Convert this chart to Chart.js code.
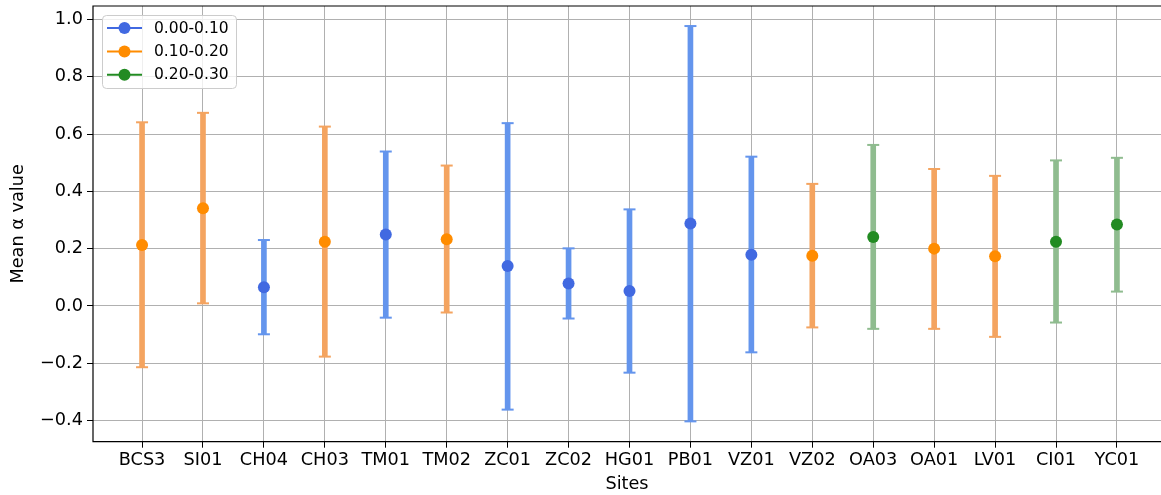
<!DOCTYPE html>
<html>
<head>
<meta charset="utf-8">
<title>Mean alpha value by site</title>
<script src="https://cdn.jsdelivr.net/npm/chart.js@4/dist/chart.umd.min.js"></script>
<style>
    html, body { margin: 0; padding: 0; overflow: hidden; background: #fff; }
    #wrap { width: 1161px; height: 495px; }
</style>
</head>
<body>
<div id="wrap"><canvas id="chart" width="1161" height="495"></canvas></div>
<script>
// Sites along the x axis
const sites = ['BCS3', 'SI01', 'CH04', 'CH03', 'TM01', 'TM02', 'ZC01', 'ZC02', 'HG01',
               'PB01', 'VZ01', 'VZ02', 'OA03', 'OA01', 'LV01', 'CI01', 'YC01'];

// Mean alpha and the ends of each error bar
const means = [0.213, 0.341, 0.065, 0.224, 0.249, 0.233, 0.139, 0.078, 0.052,
               0.288, 0.179, 0.175, 0.241, 0.200, 0.173, 0.224, 0.284];
const lower = [-0.214, 0.009, -0.099, -0.177, -0.041, -0.023, -0.362, -0.044, -0.233,
               -0.403, -0.162, -0.075, -0.080, -0.080, -0.108, -0.058, 0.050];
const upper = [0.641, 0.674, 0.230, 0.626, 0.539, 0.490, 0.638, 0.201, 0.337,
               0.977, 0.521, 0.426, 0.562, 0.478, 0.454, 0.508, 0.517];

// Group of each site (index into groupLabels)
const groups = [1, 1, 0, 1, 0, 1, 0, 0, 0, 0, 0, 1, 2, 1, 1, 2, 2];
const groupLabels = ['0.00-0.10', '0.10-0.20', '0.20-0.30'];

// Y tick labels
const yTicks = [-0.4, -0.2, 0.0, 0.2, 0.4, 0.6, 0.8, 1.0];

const pointColors = ['#4169E1', '#FF8C00', '#228B22'];
const barColors = ['#6495ED', '#F4A460', '#8FBC8F'];
const FONT = 'DejaVu Sans';

// Draw the caps at both ends of each error bar
const errorCaps = {
    id: 'errorCaps',
    afterDatasetDraw(chart, args) {
        if (args.index !== 0) return;
        const ctx = chart.ctx;
        ctx.save();
        ctx.lineWidth = 2;
        args.meta.data.forEach((bar, i) => {
            ctx.strokeStyle = barColors[groups[i]];
            [bar.y, bar.base].forEach(y => {
                ctx.beginPath();
                ctx.moveTo(bar.x - 6, y);
                ctx.lineTo(bar.x + 6, y);
                ctx.stroke();
            });
        });
        ctx.restore();
    }
};

// Axes spines: left, bottom and top (the right one falls just outside the picture)
const frame = {
    id: 'frame',
    afterDatasetsDraw(chart) {
        const { ctx, chartArea: a } = chart;
        ctx.save();
        ctx.strokeStyle = '#000';
        ctx.lineWidth = 1.2;
        ctx.beginPath();
        ctx.moveTo(a.right + 5, a.top);
        ctx.lineTo(a.left, a.top);
        ctx.lineTo(a.left, a.bottom);
        ctx.lineTo(a.right + 5, a.bottom);
        ctx.stroke();
        ctx.restore();
    }
};

// Legend inside the plot, top left, with line + marker handles
const legendBox = {
    id: 'legendBox',
    afterDraw(chart) {
        const { ctx, chartArea: a } = chart;
        const x0 = a.left + 9.5, y0 = a.top + 9.5;
        const w = 134, h = 73, rowH = 23.4;
        ctx.save();
        ctx.beginPath();
        ctx.roundRect(x0, y0, w, h, 4);
        ctx.fillStyle = 'rgba(255,255,255,0.8)';
        ctx.fill();
        ctx.strokeStyle = '#cccccc';
        ctx.lineWidth = 1;
        ctx.stroke();
        ctx.font = Chart.helpers.toFont({ family: FONT, size: 15.5 }).string;
        ctx.textBaseline = 'middle';
        chart.data.datasets.slice(1).forEach((ds, i) => {
            const cy = y0 + 12.5 + i * rowH;
            ctx.strokeStyle = ds.backgroundColor;
            ctx.lineWidth = 2;
            ctx.beginPath();
            ctx.moveTo(x0 + 4.5, cy);
            ctx.lineTo(x0 + 39.5, cy);
            ctx.stroke();
            ctx.fillStyle = ds.backgroundColor;
            ctx.beginPath();
            ctx.arc(x0 + 22, cy, 6, 0, Math.PI * 2);
            ctx.fill();
            ctx.fillStyle = '#000';
            ctx.fillText(ds.label, x0 + 51.5, cy + 0.5);
        });
        ctx.restore();
    }
};

document.addEventListener('DOMContentLoaded', function() {
    const ctx = document.getElementById('chart').getContext('2d');

    const datasets = [{
        type: 'bar',
        label: 'range',
        data: sites.map((s, i) => ({ x: i, y: [lower[i], upper[i]] })),
        backgroundColor: sites.map((s, i) => barColors[groups[i]]),
        barThickness: 5,
        borderWidth: 0,
        grouped: false,
        order: 2
    }];
    groupLabels.forEach((label, g) => {
        datasets.push({
            type: 'scatter',
            label: label,
            data: sites.map((s, i) => ({ x: i, y: means[i] })).filter((p, i) => groups[i] === g),
            backgroundColor: pointColors[g],
            borderColor: pointColors[g],
            pointRadius: 6,
            pointBorderWidth: 0,
            showLine: false,
            order: 1
        });
    });

    new Chart(ctx, {
        data: { datasets: datasets },
        options: {
            responsive: false,
            animation: false,
            layout: { autoPadding: false, padding: { top: 6, right: 0, bottom: 0, left: 0 } },
            plugins: {
                legend: { display: false },
                tooltip: { enabled: false }
            },
            scales: {
                x: {
                    type: 'linear',
                    // the original axes run a few pixels past the right edge of the picture
                    min: -0.805,
                    max: 16.723,
                    offset: false,
                    afterBuildTicks: scale => { scale.ticks = sites.map((s, i) => ({ value: i })); },
                    afterFit: scale => {
                        scale.height = 53.3;
                        scale.paddingLeft = 0;
                        scale.paddingRight = 0;
                    },
                    ticks: {
                        callback: v => sites[v],
                        autoSkip: false,
                        maxRotation: 0,
                        padding: 2,
                        color: '#000',
                        font: { family: FONT, size: 17.7 }
                    },
                    grid: { color: '#b0b0b0', lineWidth: 1, offset: false, tickLength: 6, tickColor: '#000' },
                    border: { display: false },
                    title: {
                        display: true,
                        text: 'Sites',
                        color: '#000',
                        padding: { top: 0, bottom: 0 },
                        font: { family: FONT, size: 17.7 }
                    }
                },
                y: {
                    min: -0.474,
                    max: 1.047,
                    afterBuildTicks: scale => { scale.ticks = yTicks.map(v => ({ value: v })); },
                    afterFit: scale => {
                        scale.width = 93;
                        scale.paddingTop = 0;
                        scale.paddingBottom = 0;
                    },
                    ticks: {
                        callback: v => v.toFixed(1).replace('-', '\u2212'),
                        padding: 4,
                        color: '#000',
                        font: { family: FONT, size: 17.7 }
                    },
                    grid: { color: '#b0b0b0', lineWidth: 1, tickLength: 6, tickColor: '#000' },
                    border: { display: false },
                    title: {
                        display: true,
                        text: 'Mean \u03b1 value',
                        color: '#000',
                        padding: { top: 8, bottom: 0 },
                        font: { family: FONT, size: 17.7 }
                    }
                }
            }
        },
        plugins: [errorCaps, frame, legendBox]
    });
});
</script>
</body>
</html>
